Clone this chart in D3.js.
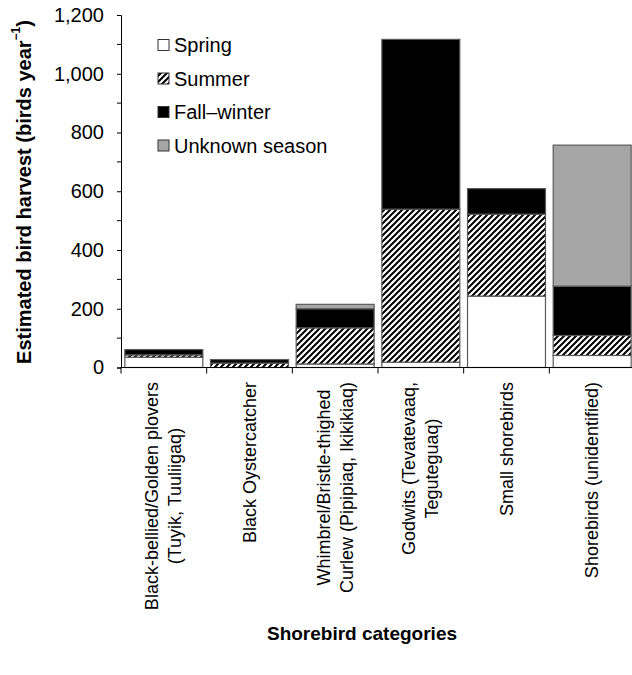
<!DOCTYPE html>
<html><head><meta charset="utf-8">
<script src="https://cdn.jsdelivr.net/npm/d3@7"></script>
<style>html,body{margin:0;padding:0;background:#fff;}svg{display:block;font-family:Arial,"Liberation Sans",sans-serif;}</style>
</head><body>
<svg id="c" width="632" height="675"></svg>
<script>
const categories = [
  ["Black-bellied/Golden plovers", "(Tuyik, Tuuliigaq)"],
  ["Black Oystercatcher"],
  ["Whimbrel/Bristle-thighed", "Curlew (Pipipiaq, Ikikikiaq)"],
  ["Godwits (Tevatevaaq,", "Teguteguaq)"],
  ["Small shorebirds"],
  ["Shorebirds (unidentified)"]
];
const seasons = ["Spring", "Summer", "Fall\u2013winter", "Unknown season"];
const spring     = [35, 0, 12, 18, 243, 41];
const summer     = [8, 15, 123, 521, 279, 68];
const fallWinter = [18, 12, 65, 578, 87, 168];
const unknown    = [0, 0, 15, 0, 0, 480];
const yTicks = [0, 200, 400, 600, 800, 1000, 1200];
const yMinorTicks = [100, 300, 500, 700, 900, 1100];

const svg = d3.select("#c");
const defs = svg.append("defs");
const pat = defs.append("pattern").attr("id","hatch").attr("patternUnits","userSpaceOnUse")
  .attr("width",6).attr("height",6);
pat.append("rect").attr("width",6).attr("height",6).attr("fill","#fff");
pat.append("path").attr("d","M-1,1 L1,-1 M0,6 L6,0 M5,7 L7,5").attr("stroke","#000").attr("stroke-width",2);

const fills = ["#ffffff", "url(#hatch)", "#000000", "#a6a6a6"];
const seriesVals = [spring, summer, fallWinter, unknown];
const keys = ["s0","s1","s2","s3"];
const rows = categories.map((c,i)=>{const o={idx:i}; keys.forEach((k,j)=>o[k]=seriesVals[j][i]); return o;});
const stacked = d3.stack().keys(keys)(rows);

const x = d3.scaleBand().domain(d3.range(categories.length)).range([121, 635]).paddingInner(0.09).paddingOuter(0.045);
const y = d3.scaleLinear().domain([0,1200]).range([367.5, 15]);

// bars
stacked.forEach((layer,j)=>{
  svg.append("g").selectAll("rect").data(layer).join("rect")
    .attr("x", d=>x(d.data.idx))
    .attr("width", x.bandwidth())
    .attr("y", d=>y(d[1]))
    .attr("height", d=>Math.max(0, y(d[0])-y(d[1])))
    .attr("fill", fills[j])
    .attr("stroke", d=> (d[1]-d[0])>0 ? "#5a5a5a" : "none")
    .attr("stroke-width", 1.2);
});

// y axis
const yAxis = d3.axisLeft(y).tickValues(yTicks).tickFormat(d3.format(",")).tickSize(4).tickPadding(13);
const gy = svg.append("g").attr("transform","translate(121,0)").call(yAxis);
gy.select(".domain").attr("stroke","#000");
gy.selectAll(".tick line").attr("stroke","#000");
gy.selectAll("text").attr("font-size",20).attr("fill","#000");
svg.append("g").attr("transform","translate(121,0)")
  .selectAll("line").data(yMinorTicks).join("line")
  .attr("x1",-4).attr("x2",0).attr("y1",d=>y(d)).attr("y2",d=>y(d)).attr("stroke","#000");

// x axis line + boundary ticks
const step = x.step();
const x0 = x.range()[0];
svg.append("line").attr("x1",121).attr("x2",632).attr("y1",y(0)).attr("y2",y(0)).attr("stroke","#000");
svg.append("g").selectAll("line").data(d3.range(categories.length)).join("line")
  .attr("x1",i=>x0+i*step).attr("x2",i=>x0+i*step)
  .attr("y1",y(0)).attr("y2",y(0)+6).attr("stroke","#000");

// x tick labels (rotated, top aligned, lines centered)
const lineH = 23;
categories.forEach((lines,i)=>{
  const cx = x(i) + x.bandwidth()/2;
  const g = svg.append("g");
  const n = lines.length;
  const texts = lines.map((t,k)=> g.append("text").text(t).attr("font-size",18).attr("fill","#000")
     .attr("text-anchor","middle").attr("dominant-baseline","central"));
  const maxLen = d3.max(texts, t=>t.node().getComputedTextLength());
  const top = 382;
  const cy = top + maxLen/2;
  texts.forEach((t,k)=>{
    const off = (k-(n-1)/2)*lineH;
    t.attr("transform",`translate(${cx+off},${cy}) rotate(-90)`);
  });
});

// legend
const lg = svg.append("g");
seasons.forEach((s,j)=>{
  const cy = 45 + j*33.5;
  lg.append("rect").attr("x",158).attr("y",cy-5.5).attr("width",11).attr("height",11)
    .attr("fill",fills[j]).attr("stroke","#333").attr("stroke-width",1);
  lg.append("text").attr("x",174).attr("y",cy).attr("dominant-baseline","central")
    .attr("font-size",20).attr("fill","#000").text(s);
});

// axis titles
const yt = svg.append("text").attr("transform","translate(24,192) rotate(-90)")
  .attr("text-anchor","middle").attr("dominant-baseline","central").attr("font-size",20).attr("font-weight","bold").attr("fill","#000");
yt.append("tspan").text("Estimated bird harvest (birds year");
yt.append("tspan").text("\u22121").attr("font-size",12).attr("dy",-8);
yt.append("tspan").text(")").attr("dy",8);

svg.append("text").attr("x",362).attr("y",640).attr("text-anchor","middle")
  .attr("font-size",19).attr("font-weight","bold").attr("fill","#000").text("Shorebird categories");
</script>
</body></html>
